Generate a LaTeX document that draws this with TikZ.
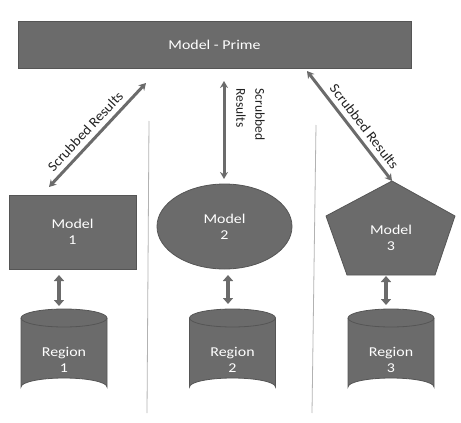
\documentclass[tikz,border=0pt]{standalone}
\usepackage{fontspec}
\setmainfont{Carlito}[FakeStretch=1.18]
\newfontfamily\vfont{Carlito}
\newfontfamily\dfont{Carlito}[FakeStretch=1.06]
\usetikzlibrary{arrows.meta,shapes.geometric}
\definecolor{gfill}{HTML}{6B6B6B}
\definecolor{edge}{HTML}{555555}
\definecolor{lbl}{HTML}{222222}
\tikzset{
  box/.style={draw=edge, fill=gfill, line width=0.8pt, text=white, align=center,
     font=\fontsize{13.5}{16}\selectfont, inner sep=0pt},
  plain/.style={text=white, align=center, font=\fontsize{13.5}{16}\selectfont, inner sep=0pt},
  link/.style={draw=gfill, line width=3pt, {Stealth[length=7pt,width=8pt]}-{Stealth[length=7pt,width=8pt]}},
  short/.style={draw=gfill, line width=4.5pt, {Triangle[length=6pt,width=10pt]}-{Triangle[length=6pt,width=10pt]}},
  lab/.style={text=lbl, font=\dfont\fontsize{14}{16}\selectfont, inner sep=0pt},
  divider/.style={draw=gray!60, line width=0.8pt},
}
\begin{document}
\begin{tikzpicture}[x=1pt,y=-1pt]
\useasboundingbox (0,0) rectangle (461,423);
% dividers
\draw[divider] (149,121) -- (147,413);
\draw[divider] (316,125) -- (312,413);
% prime
\node[box, rectangle, minimum width=393pt, minimum height=47pt] (prime) at (214.5,44.5) {Model - Prime};
% model 1
\node[box, rectangle, minimum width=127pt, minimum height=74pt] (m1) at (72.5,232) {Model\\1};
% model 2
\node[box, ellipse, minimum width=135pt, minimum height=85pt] (m2) at (224.5,226.5) {Model\\2};
% model 3 pentagon
\filldraw[fill=gfill, draw=edge, line width=0.8pt] (392,181) -- (455,216) -- (435,275) -- (347,275) -- (326,216) -- cycle;
\node[plain] (m3) at (391,238) {Model\\3};
% cylinders
\foreach \cx in {64, 232.5, 391}{
  \filldraw[fill=gfill, draw=edge, line width=0.8pt]
    (\cx-43,318) -- (\cx-43,387) arc[start angle=180, end angle=360, x radius=43, y radius=9]
    -- (\cx+43,318) arc[start angle=0, end angle=-180, x radius=43, y radius=9] -- cycle;
  \draw[edge, line width=0.8pt] (\cx-43,318) arc[start angle=180, end angle=360, x radius=43, y radius=-9];
}
\node[plain] (r1) at (64,360) {Region\\1};
\node[plain] (r2) at (232.5,360) {Region\\2};
\node[plain] (r3) at (391,360) {Region\\3};
% connector end points
\coordinate (l1) at (49,187);
\coordinate (l2) at (146,83);
\coordinate (c1) at (224,81);
\coordinate (c2) at (224,179);
\coordinate (q1) at (307,71);
\coordinate (q2) at (392,181);
\coordinate (s1a) at (59,275); \coordinate (s1b) at (59,306);
\coordinate (s2a) at (228,275); \coordinate (s2b) at (228,304);
\coordinate (s3a) at (386,276); \coordinate (s3b) at (386,305);
% connectors
\draw[link] (l1) -- node[lab, sloped, above=5pt, pos=0.46] {Scrubbed Results} (l2);
\draw[link] (c1) -- (c2);
\draw[link] (q1) -- node[lab, sloped, above=5pt, pos=0.57] {Scrubbed Results} (q2);
\node[text=lbl, font=\vfont\fontsize{13.5}{19}\selectfont, align=left, rotate=-90, inner sep=0pt] (vl) at (250.5,114.5) {Scrubbed\\Results};
\draw[short] (s1a) -- (s1b);
\draw[short] (s2a) -- (s2b);
\draw[short] (s3a) -- (s3b);
\end{tikzpicture}
\end{document}
